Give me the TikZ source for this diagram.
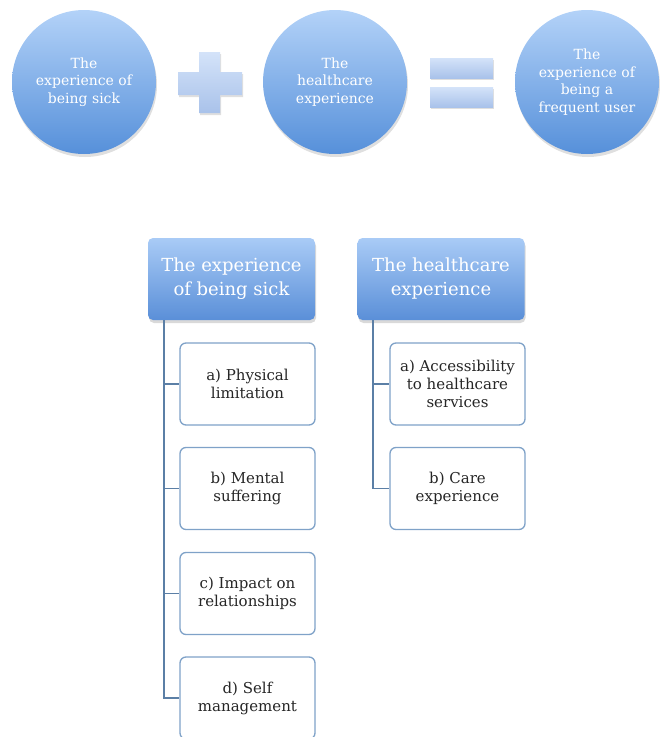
\documentclass[tikz,border=0pt]{standalone}
\usepackage{fontspec}
\setmainfont{DejaVu Serif}
\usetikzlibrary{shadows}
\definecolor{ctop}{HTML}{B3D2F8}
\definecolor{cbot}{HTML}{5690DA}
\definecolor{htop}{HTML}{A9CBF6}
\definecolor{hbot}{HTML}{5A8FD8}
\definecolor{stop}{HTML}{D4E3F9}
\definecolor{sbot}{HTML}{A9C2EA}
\definecolor{linec}{HTML}{5B7FA6}
\definecolor{boxc}{HTML}{7FA2C8}
\tikzset{
  bubble/.style={circle, minimum size=144pt, inner sep=0pt, top color=ctop, bottom color=cbot, draw=none,
    drop shadow={shadow xshift=1pt, shadow yshift=-3pt, opacity=0.25},
    text=white, align=center, font=\fontsize{14}{17.5}\selectfont},
  sign/.style={top color=stop, bottom color=sbot, draw=none,
    drop shadow={shadow xshift=1pt, shadow yshift=-2pt, opacity=0.25}},
  headbox/.style={rounded corners=5pt, minimum width=167pt, minimum height=82pt, inner sep=0pt,
    top color=htop, bottom color=hbot, draw=none,
    drop shadow={shadow xshift=1pt, shadow yshift=-3pt, opacity=0.3},
    text=white, align=center, font=\fontsize{18}{24}\selectfont},
  childbox/.style={rounded corners=6pt, minimum width=135pt, minimum height=82pt, inner sep=0pt,
    draw=boxc, line width=1.3pt, fill=white, text=black!85, align=center,
    font=\fontsize{15}{18}\selectfont},
  conn/.style={draw=linec, line width=1.6pt}
}
\begin{document}
\begin{tikzpicture}[x=1pt,y=-1pt]
\useasboundingbox (0,0) rectangle (660,737);
\clip (0,0) rectangle (660,737);
% top equation
\node[bubble] (c1) at (84,82) {The\\experience of\\being sick};
\node[bubble] (c2) at (335,82) {The\\healthcare\\experience};
\node[bubble] (c3) at (587,82) {The\\experience of\\being a\\frequent user};
\path[sign] (199,52) -- (220,52) -- (220,72) -- (242,72) -- (242,95) -- (220,95) -- (220,113) -- (199,113) -- (199,95) -- (178,95) -- (178,72) -- (199,72) -- cycle;
\path[sign] (430,58) rectangle (493,78);
\path[sign] (430,87) rectangle (493,107);
% hierarchy
\node[headbox] (h1) at (231.5,279) {The experience\\of being sick};
\node[headbox] (h2) at (441,279) {The healthcare\\experience};
\node[childbox] (a1) at (247.5,384) {a) Physical\\limitation};
\node[childbox] (b1) at (247.5,488.5) {b) Mental\\suffering};
\node[childbox] (cc1) at (247.5,593.5) {c) Impact on\\relationships};
\node[childbox] (d1) at (247.5,698) {d) Self\\management};
\node[childbox] (a2) at (457.5,384) {a) Accessibility\\to healthcare\\services};
\node[childbox] (b2) at (457.5,488.5) {b) Care\\experience};
\coordinate (t1) at (164,320);
\coordinate (t2) at (373,320);
\draw[conn] (t1) |- (a1.west);
\draw[conn] (t1) |- (b1.west);
\draw[conn] (t1) |- (cc1.west);
\draw[conn] (t1) |- (d1.west);
\draw[conn] (t2) |- (a2.west);
\draw[conn] (t2) |- (b2.west);
\end{tikzpicture}
\end{document}
